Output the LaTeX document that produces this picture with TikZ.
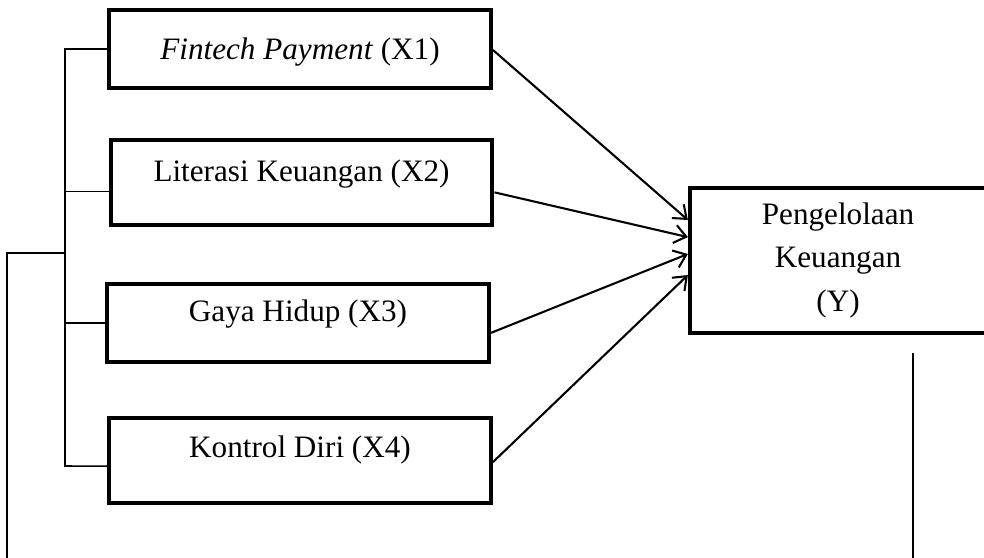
\documentclass[tikz,border=0pt]{standalone}
\usepackage{fontspec}
\setmainfont{Liberation Serif}
\usetikzlibrary{arrows.meta}

\begin{document}
\begin{tikzpicture}[x=0.385pt, y=-0.385pt,
	varbox/.style={shape=rectangle, draw=black, line width=1.6pt, minimum width=147pt, minimum height=30pt, text height=8pt, text depth=9pt, font=\fontsize{12}{14}\selectfont},
	link/.style={line width=0.6pt},
	arrow/.style={line width=0.8pt, -{Straight Barb[length=4.5pt, width=7pt]}}]
	
	\useasboundingbox (0,0) rectangle (984,558);
	
	\node[varbox, text depth=0pt]                 (x1) at (300, 49)    {\textit{Fintech Payment} (X1)};
	\node[varbox, minimum height=32.7pt]          (x2) at (301.5, 182.5) {Literasi Keuangan (X2)};
	\node[varbox]                                 (x3) at (298, 323)   {Gaya Hidup (X3)};
	\node[varbox, minimum height=32.7pt, text depth=10pt] (x4) at (300, 460.5) {Kontrol Diri (X4)};
	\node[varbox, minimum width=114pt, minimum height=55.8pt, text height=, text depth=, align=center, font=\fontsize{12}{16.6}\selectfont] (y) at (838, 260.5) {Pengelolaan\\Keuangan\\(Y)};
	
	\coordinate (spbot)  at (65, 466);
	\coordinate (branch) at (65, 253);
	\coordinate (outer)  at (7, 558);
	\coordinate (rtop)   at (913, 353);
	\coordinate (rbot)   at (913, 558);
	
	\draw[link] (x1.west) -| (spbot) -- ([yshift=-2.2pt]x4.west);
	\draw[link] ([yshift=-3.4pt]x2.west) -- ([yshift=-3.4pt]x2.west -| spbot);
	\draw[link] (x3.west) -- (x3.west -| spbot);
	\draw[link] (branch) -| (outer);
	\draw[link] (rtop) -- (rbot);
	
	\path[arrow] ([yshift=-0.4pt]x1.east) edge ([yshift=15.6pt]y.west);
	\path[arrow] ([yshift=-3.8pt]x2.east) edge ([yshift=9pt]y.west);
	\path[arrow] ([yshift=-3.8pt]x3.east) edge ([yshift=2.5pt]y.west);
	\path[arrow] ([yshift=-0.6pt]x4.east) edge ([yshift=-5.6pt]y.west);
	
\end{tikzpicture}
\end{document}
